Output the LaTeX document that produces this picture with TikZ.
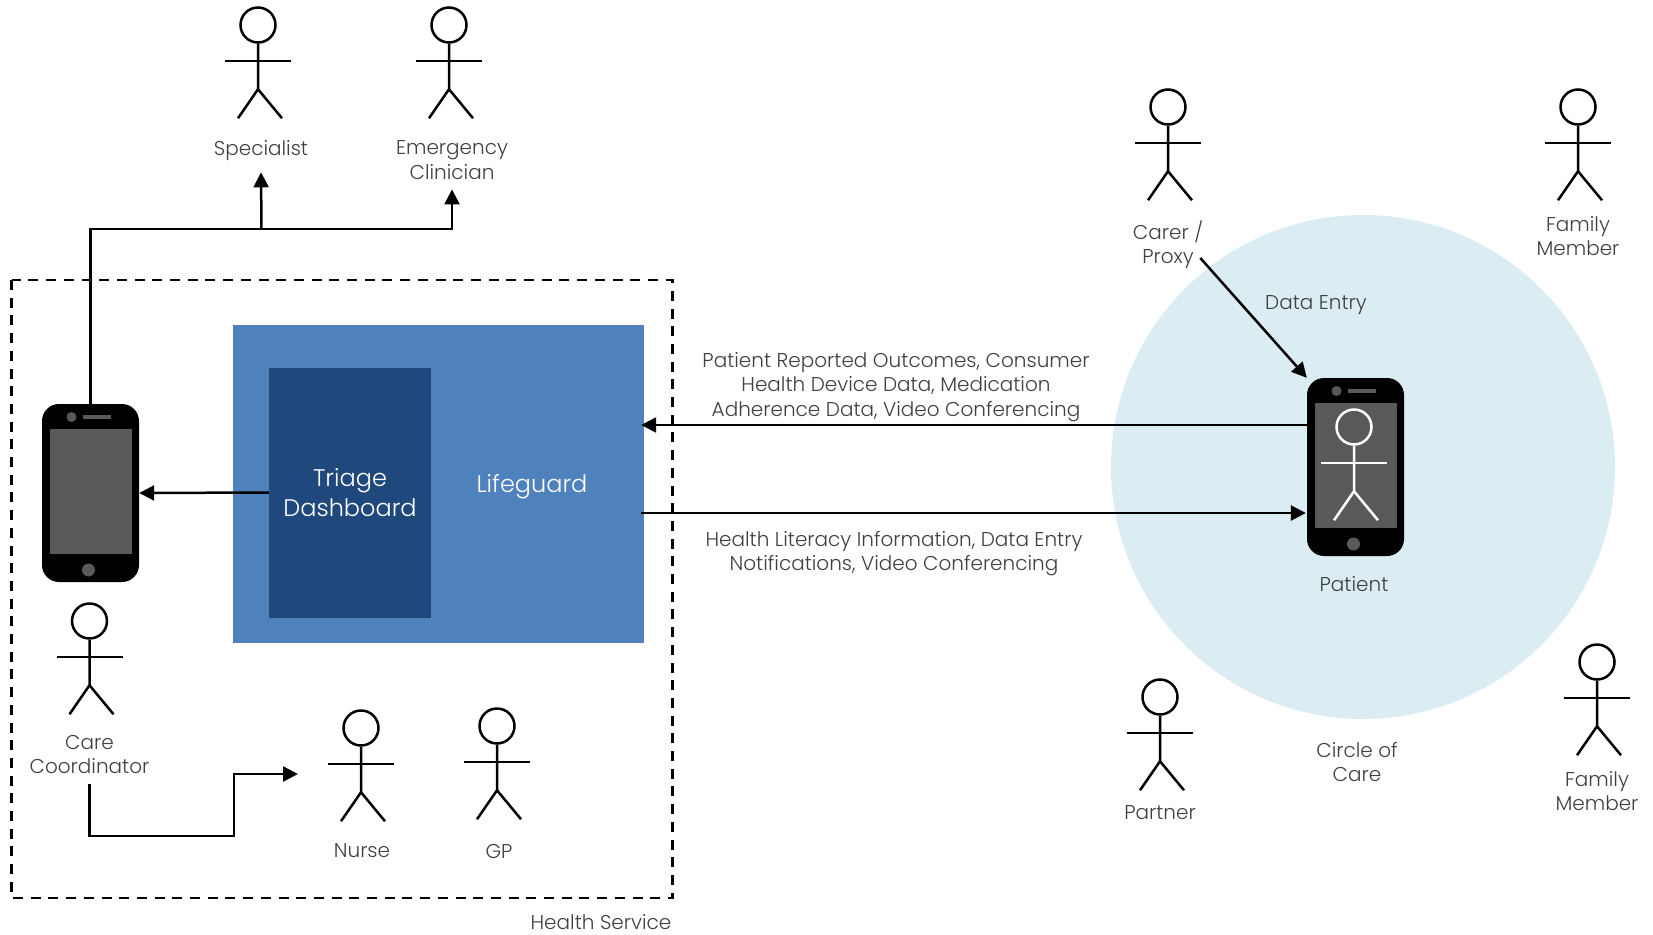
\documentclass[tikz,border=0pt]{standalone}
\usepackage{fontspec}
\setmainfont{Poppins}[UprightFont=* Light]
\usetikzlibrary{arrows.meta, positioning, shapes.geometric, calc}
\definecolor{textGrey}{HTML}{404040}
\definecolor{lifeBlue}{HTML}{4F81BD}
\definecolor{triageBlue}{HTML}{1F497D}
\definecolor{circleBlue}{HTML}{DBEDF3}
\definecolor{screenGrey}{HTML}{595959}
\newcommand{\stickman}[3][black]{
  \node(#2)[head, draw=#1] at #3 {};
  \draw[limb, #1] (#2.south) -- ++(0,45.5) coordinate (#2 hip) -- ++(-20,29);
  \draw[limb, #1] (#2 hip) -- ++(24,29);
  \draw[limb, #1] ($(#2)+(-33,36)$) -- ++(66,0);
}
\newcommand{\actor}[4]{
  \stickman{#1 head}{#2}
  \node(#1)[actorText] at ($(#1 head)+#3$) {#4};
}
\newcommand{\phone}[2]{
  \node(#1)[phoneBody] at #2 {};
  \node(#1 screen)[phoneScreen] at ($(#1)+(0,-2)$) {};
  \node(#1 home)[phoneDot, minimum size=13] at ($(#1)+(-2,77)$) {};
  \node(#1 camera)[phoneDot, minimum size=10] at ($(#1)+(-19,-76)$) {};
  \node(#1 speaker)[phoneScreen, minimum width=28, minimum height=4] at ($(#1)+(6,-76)$) {};
}
\tikzset{
  head/.style = {
    circle,
    line width=2.5,
    inner sep=0,
    minimum size=35,
  },
  limb/.style = {
    line width=2.5,
  },
  actorText/.style = {
    align=center,
    text=textGrey,
    inner sep=0,
    font=\fontsize{20}{24.3}\selectfont,
  },
  phoneBody/.style = {
    fill=black,
    rounded corners=17,
    minimum width=97,
    minimum height=178,
  },
  phoneScreen/.style = {
    fill=screenGrey,
    inner sep=0,
    minimum width=82,
    minimum height=125,
  },
  phoneDot/.style = {
    circle,
    fill=screenGrey,
    inner sep=0,
  },
  bigBox/.style = {
    inner sep=0,
    text=white,
    font=\fontsize{24}{30.6}\selectfont,
    align=center,
  },
  sends/.style = {
    -{Triangle[length=15, width=15]},
    line width=2.5,
  },
  plainLine/.style = {
    line width=2.5,
  },
}

\begin{document}
\begin{tikzpicture}[x=1pt, y=-1pt]
\useasboundingbox (0,0) rectangle (1653,934);

\node(circle of care)[circle, fill=circleBlue, minimum size=504] at (1363,467) {};

\draw[line width=2.5, dash pattern=on 10 off 7.7] (11.5,280) rectangle (672.5,898);

\node(lifeguard box)[bigBox, fill=lifeBlue, minimum width=411, minimum height=318] at (438.5,483.5) {};
\node(triage)[bigBox, fill=triageBlue, minimum width=162, minimum height=250] at (350,492.5) {Triage\\Dashboard};
\node(lifeguard)[bigBox] at (532,487) {Lifeguard};

\phone{care phone}{(90.5,493)}
\phone{patient phone}{(1355.5,467)}
\stickman[white]{patient figure}{(1354,427)}

\actor{specialist}{(258,25)}{(3,126)}{Specialist}
\actor{emergency}{(449,25)}{(3,135)}{Emergency\\Clinician}
\actor{coordinator}{(89.5,621)}{(0,133.5)}{Care\\Coordinator}
\actor{nurse}{(361,728)}{(1,123)}{Nurse}
\actor{gp}{(497,726)}{(2,125)}{GP}
\actor{carer}{(1168,107)}{(0,138)}{Carer /\\Proxy}
\actor{family top}{(1578,107)}{(0,129)}{Family\\Member}
\actor{partner}{(1160,697)}{(0,116)}{Partner}
\actor{family bottom}{(1597,662)}{(0,129)}{Family\\Member}

\node(patient)[actorText] at (1354,584) {Patient};
\node(circle label)[actorText] at (1357,762) {Circle of\\Care};
\node(data entry)[actorText] at (1316,305.5) {Data Entry};
\node(health service)[actorText] at (601,922.5) {Health Service};
\node(inbound)[actorText] at (896,387) {Patient Reported Outcomes, Consumer\\Health Device Data, Medication\\Adherence Data, Video Conferencing};
\node(outbound)[actorText] at (894,553.5) {Health Literacy Information, Data Entry\\Notifications, Video Conferencing};

\coordinate (bus) at (261.5,229);
\coordinate (nurse turn) at (234,836);
\coordinate (nurse entry) at (298,774);
\draw[plainLine] (care phone.north) |- (bus);
\draw[sends] (bus) -- ($(specialist.south)+(0,11)$);
\draw[sends] (bus) -| ($(emergency.south)+(0,10)$);

\draw[sends] (triage.west) -- (care phone.east);
\draw[sends] ($(patient phone.west)+(0,-42)$) -- ($(lifeguard box.east)+(-3,-58.5)$);
\draw[sends] ($(lifeguard box.east)+(-3,29.5)$) -- ($(patient phone.west)+(-1,46)$);
\draw[sends] ($(carer.east)+(-3,13)$) -- (patient phone.north west);

\draw[sends] ($(coordinator.south)+(0,10)$) |- (nurse turn) |- (nurse entry);

\end{tikzpicture}
\end{document}
